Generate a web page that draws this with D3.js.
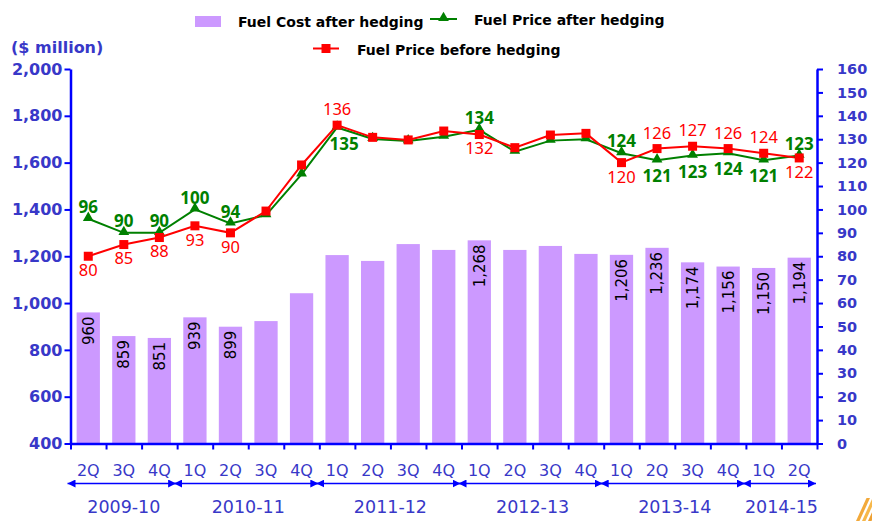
<!DOCTYPE html>
<html>
<head>
  <meta charset="UTF-8">
  <style>
    body { margin: 0; background: #fff; }
    svg { display: block; }
  </style>
</head>
<body>
<svg></svg>
<script src="https://d3js.org/d3.v7.min.js"></script>
<script>

let width = 872, height = 521;

// chart data
let quarters = ["2Q","3Q","4Q","1Q","2Q","3Q","4Q","1Q","2Q","3Q","4Q","1Q","2Q","3Q","4Q","1Q","2Q","3Q","4Q","1Q","2Q"];
let fuelCost = [960, 859, 851, 939, 899, 923, 1042, 1205, 1180, 1252, 1227, 1268, 1227, 1244, 1210, 1206, 1236, 1174, 1156, 1150, 1194];
let priceAfter = [96, 90, 90, 100, 94, 97.6, 115, 135, 130.1, 129.2, 131.1, 134, 124.7, 129.4, 130, 124, 121, 123, 124, 121, 123];
let priceBefore = [80, 85, 88, 93, 90, 99.3, 119, 136, 130.8, 129.7, 133.5, 132, 126.4, 131.8, 132.5, 120, 126, 127, 126, 124, 122];
let costLabelled = [0, 1, 2, 3, 4, 11, 15, 16, 17, 18, 19, 20];
let priceLabelled = [0, 1, 2, 3, 4, 7, 11, 15, 16, 17, 18, 19, 20];
let afterBelow = [7, 16, 17, 18, 19];      // green labels drawn under the point
let beforeAbove = [7, 16, 17, 18, 19];     // red labels drawn over the point
let years = ["2009-10", "2010-11", "2011-12", "2012-13", "2013-14", "2014-15"];
let yearSpans = [3, 4, 4, 4, 4, 2];

let axisBlue = "#0000ff", textBlue = "#3838c8";

let svg = d3.select("svg")
    .attr("width", width)
    .attr("height", height)
    .attr("viewBox", "0 0 " + width + " " + height);

let plotLeft = 70.5, plotRight = 817, plotTop = 69, plotBottom = 443.5;

let x = d3.scaleBand()
    .domain(d3.range(quarters.length))
    .range([plotLeft, plotRight])
    .paddingInner(0.345)
    .paddingOuter(0.1725);
let xb = d3.scaleLinear().domain([0, quarters.length]).range([plotLeft, plotRight]);
let cx = i => x(i) + x.bandwidth() / 2;

let yL = d3.scaleLinear().domain([400, 2000]).range([plotBottom, plotTop]);
let yR = d3.scaleLinear().domain([0, 160]).range([plotBottom, plotTop]);

// bars
svg.append("g")
    .selectAll("rect")
    .data(fuelCost)
    .enter()
    .append("rect")
    .attr("x", (d, i) => x(i))
    .attr("width", x.bandwidth())
    .attr("y", d => yL(d))
    .attr("height", d => plotBottom - yL(d))
    .attr("fill", "#cc99ff");

// bar labels, rotated
svg.append("g")
    .selectAll("text")
    .data(costLabelled)
    .enter()
    .append("text")
    .attr("transform", i => "translate(" + cx(i) + "," + (yL(fuelCost[i]) + 4) + ") rotate(-90)")
    .attr("text-anchor", "end")
    .attr("dy", "0.36em")
    .style("font-family", "DejaVu Sans")
    .style("font-size", "15px")
    .attr("fill", "#000")
    .text(i => d3.format(",")(fuelCost[i]));

// axes
let gl = svg.append("g")
    .attr("transform", "translate(" + plotLeft + ",0)")
    .call(d3.axisLeft(yL).tickValues(d3.range(400, 2001, 200)).tickFormat(d3.format(",")).tickSize(6).tickSizeOuter(0));
let gr = svg.append("g")
    .attr("transform", "translate(" + plotRight + ",0)")
    .call(d3.axisRight(yR).tickValues(d3.range(0, 161, 10)).tickSize(6).tickSizeOuter(0));
let gx = svg.append("g")
    .attr("transform", "translate(0," + plotBottom + ")")
    .call(d3.axisBottom(xb).tickValues(d3.range(0, quarters.length + 1)).tickFormat("").tickSize(6).tickSizeOuter(0));

[gl, gr, gx].forEach(g => {
    g.select(".domain").attr("stroke", axisBlue).attr("stroke-width", 2.5);
    g.selectAll(".tick line").attr("stroke", axisBlue).attr("stroke-width", 2);
});
gl.selectAll(".tick text")
    .attr("x", -8)
    .attr("fill", textBlue)
    .style("font-family", "DejaVu Sans")
    .style("font-weight", "bold")
    .style("font-size", "16px");
gr.selectAll(".tick text")
    .attr("x", 20)
    .attr("fill", textBlue)
    .style("font-family", "DejaVu Sans")
    .style("font-weight", "bold")
    .style("font-size", "14.5px");

// quarter labels
svg.append("g")
    .selectAll("text")
    .data(quarters)
    .enter()
    .append("text")
    .attr("x", (d, i) => cx(i))
    .attr("y", 476)
    .attr("text-anchor", "middle")
    .attr("fill", textBlue)
    .style("font-family", "DejaVu Sans")
    .style("font-size", "16px")
    .text(d => d);

// year arrows
let defs = svg.append("defs");
defs.append("marker")
    .attr("id", "arrowEnd")
    .attr("viewBox", "0 -5 10 10")
    .attr("refX", 10).attr("refY", 0)
    .attr("markerWidth", 8).attr("markerHeight", 8)
    .attr("markerUnits", "userSpaceOnUse")
    .attr("orient", "auto")
    .append("path").attr("d", "M0,-5L10,0L0,5Z").attr("fill", axisBlue);
defs.append("marker")
    .attr("id", "arrowStart")
    .attr("viewBox", "0 -5 10 10")
    .attr("refX", 0).attr("refY", 0)
    .attr("markerWidth", 8).attr("markerHeight", 8)
    .attr("markerUnits", "userSpaceOnUse")
    .attr("orient", "auto")
    .append("path").attr("d", "M10,-5L0,0L10,5Z").attr("fill", axisBlue);

let starts = [];
yearSpans.reduce((acc, s) => { starts.push(acc); return acc + s; }, 0);

let yearG = svg.append("g");
yearG.selectAll("line")
    .data(years)
    .enter()
    .append("line")
    .attr("x1", (d, k) => xb(starts[k]) - 3)
    .attr("x2", (d, k) => xb(starts[k] + yearSpans[k]) - 1)
    .attr("y1", 483.5).attr("y2", 483.5)
    .attr("stroke", axisBlue)
    .attr("stroke-width", 1.5)
    .attr("marker-start", "url(#arrowStart)")
    .attr("marker-end", "url(#arrowEnd)");
yearG.selectAll("text")
    .data(years)
    .enter()
    .append("text")
    .attr("x", (d, k) => (xb(starts[k]) + xb(starts[k] + yearSpans[k])) / 2)
    .attr("y", 513)
    .attr("text-anchor", "middle")
    .attr("fill", textBlue)
    .style("font-family", "DejaVu Sans")
    .style("font-size", "17.5px")
    .text(d => d);

// lines
let priceLine = d3.line().x((d, i) => cx(i)).y(d => yR(d));
svg.append("path")
    .attr("d", priceLine(priceAfter))
    .attr("fill", "none")
    .attr("stroke", "#008000")
    .attr("stroke-width", 2);
svg.append("path")
    .attr("d", priceLine(priceBefore))
    .attr("fill", "none")
    .attr("stroke", "#ff0000")
    .attr("stroke-width", 2);

let tri = d3.symbol().type(d3.symbolTriangle).size(50);
svg.append("g")
    .selectAll("path")
    .data(priceAfter)
    .enter()
    .append("path")
    .attr("d", tri)
    .attr("transform", (d, i) => "translate(" + cx(i) + "," + (yR(d) - 1) + ")")
    .attr("fill", "#008000");
svg.append("g")
    .selectAll("rect")
    .data(priceBefore)
    .enter()
    .append("rect")
    .attr("x", (d, i) => cx(i) - 4.5)
    .attr("y", d => yR(d) - 4.5)
    .attr("width", 9).attr("height", 9)
    .attr("fill", "#ff0000");

// price labels
svg.append("g")
    .selectAll("text")
    .data(priceLabelled)
    .enter()
    .append("text")
    .attr("x", i => cx(i) + (i == 7 ? 7 : 0))
    .attr("y", i => yR(priceAfter[i]) + (afterBelow.includes(i) ? 16 : -12))
    .attr("dy", "0.36em")
    .attr("text-anchor", "middle")
    .attr("fill", "#008000")
    .style("font-family", "Noto Sans")
    .style("font-weight", "bold")
    .style("font-size", "17px")
    .text(i => priceAfter[i]);
svg.append("g")
    .selectAll("text")
    .data(priceLabelled)
    .enter()
    .append("text")
    .attr("x", i => cx(i))
    .attr("y", i => yR(priceBefore[i]) + (beforeAbove.includes(i) ? -16 : 14))
    .attr("dy", "0.36em")
    .attr("text-anchor", "middle")
    .attr("fill", "#ff0000")
    .style("font-family", "Noto Sans")
    .style("font-size", "16.5px")
    .text(i => priceBefore[i]);

// unit label
svg.append("text")
    .attr("x", 11).attr("y", 53)
    .attr("fill", textBlue)
    .style("font-family", "DejaVu Sans")
    .style("font-weight", "bold")
    .style("font-size", "16px")
    .text("($ million)");

// legend
let legend = svg.append("g")
    .style("font-family", "DejaVu Sans")
    .style("font-weight", "bold")
    .style("font-size", "14px");
legend.append("rect")
    .attr("x", 195).attr("y", 16).attr("width", 26).attr("height", 11)
    .attr("fill", "#cc99ff");
legend.append("text").attr("x", 238).attr("y", 26.5).text("Fuel Cost after hedging");
legend.append("line")
    .attr("x1", 430).attr("x2", 457).attr("y1", 19).attr("y2", 19)
    .attr("stroke", "#008000").attr("stroke-width", 2);
legend.append("path")
    .attr("d", tri)
    .attr("transform", "translate(443.5,18)")
    .attr("fill", "#008000");
legend.append("text").attr("x", 474).attr("y", 24.5).text("Fuel Price after hedging");
legend.append("line")
    .attr("x1", 313).attr("x2", 339).attr("y1", 48.5).attr("y2", 48.5)
    .attr("stroke", "#ff0000").attr("stroke-width", 2);
legend.append("rect")
    .attr("x", 321.5).attr("y", 44).attr("width", 9).attr("height", 9)
    .attr("fill", "#ff0000");
legend.append("text").attr("x", 357).attr("y", 54.5).text("Fuel Price before hedging");

// corner logo fragment
let logo = svg.append("g");
[[856, "#f2a93b"], [862, "#f7b84a"], [868, "#eea032"]].forEach(s => {
    logo.append("path")
        .attr("d", "M" + s[0] + ",521 L" + (s[0] + 3.5) + ",521 L" + (s[0] + 14) + ",498 L" + (s[0] + 10.5) + ",498 Z")
        .attr("fill", s[1]);
});

</script>
</body>
</html>
